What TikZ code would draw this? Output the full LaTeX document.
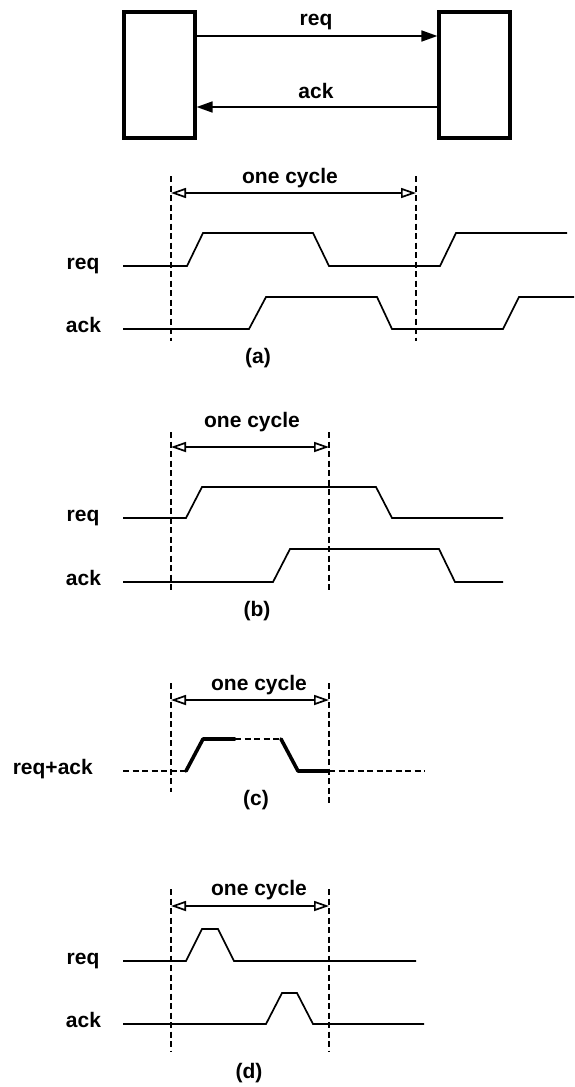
\documentclass[tikz,border=0pt]{standalone}
\usepackage{fontspec}
\setmainfont{Liberation Sans}
\usetikzlibrary{arrows.meta}
\begin{document}
\begin{tikzpicture}[x=1pt,y=-1pt,
  lbl/.style={font=\fontsize{21}{25}\selectfont\bfseries, inner sep=0pt},
  blk/.style={draw, line width=3.2pt, minimum width=71pt, minimum height=126pt, inner sep=0pt},
  sig/.style={line width=1.7pt, line join=miter},
  fat/.style={line width=3.6pt, line cap=round, line join=round},
  dsh/.style={line width=1.5pt, dash pattern=on 6pt off 3.5pt},
  flow/.style={line width=1.7pt, -{Triangle[length=16pt,width=11pt]}},
  span/.style={line width=1.7pt, {Triangle[open,length=15pt,width=10pt]}-{Triangle[open,length=15pt,width=10pt]}}]
\useasboundingbox (0,0) rectangle (574,1087);
% ---------- blocks ----------
\node[blk] (L) at (159.5,75) {};
\node[blk] (R) at (474.5,75) {};
\coordinate (yreq) at (0,36);
\coordinate (yack) at (0,107);
\draw[flow] (L.east |- yreq) -- (R.west |- yreq);
\draw[flow] (R.west |- yack) -- (L.east |- yack);
\node[lbl, anchor=base] (treq) at (316,25) {req};
\node[lbl, anchor=base] (tack) at (316,98) {ack};
% ---------- (a) ----------
\coordinate (a1t) at (171,176); \coordinate (a1b) at (171,341);
\coordinate (a2t) at (416,176); \coordinate (a2b) at (416,341);
\draw[dsh] (a1t) -- (a1b);
\draw[dsh] (a2t) -- (a2b);
\coordinate (aAl) at (171,193); \coordinate (aAr) at (416,193);
\draw[span] (aAl) -- (aAr);
\node[lbl, anchor=base] (aoc) at (290,183) {one cycle};
\draw[sig] (123,266) -- (187,266) -- (203,233) -- (313,233) -- (329,266) -- (440,266) -- (456,233) -- (567,233);
\draw[sig] (123,329) -- (249,329) -- (266,297) -- (377,297) -- (392,329) -- (503,329) -- (519,297) -- (574,297);
\node[lbl, anchor=base] (areq) at (83,269) {req};
\node[lbl, anchor=base] (aack) at (83.5,332) {ack};
\node[lbl, anchor=base] (acap) at (258,363) {(a)};
% ---------- (b) ----------
\coordinate (b1t) at (171,432); \coordinate (b1b) at (171,593);
\coordinate (b2t) at (329,432); \coordinate (b2b) at (329,593);
\draw[dsh] (b1t) -- (b1b);
\draw[dsh] (b2t) -- (b2b);
\coordinate (bAl) at (171,447); \coordinate (bAr) at (329,447);
\draw[span] (bAl) -- (bAr);
\node[lbl, anchor=base] (boc) at (252,427) {one cycle};
\draw[sig] (123,518) -- (186,518) -- (202,487) -- (376,487) -- (392,518) -- (503,518);
\draw[sig] (123,582) -- (273,582) -- (290,549) -- (439,549) -- (455,582) -- (503,582);
\node[lbl, anchor=base] (breq) at (83,521) {req};
\node[lbl, anchor=base] (back) at (83.5,585) {ack};
\node[lbl, anchor=base] (bcap) at (257,616) {(b)};
% ---------- (c) ----------
\coordinate (c1t) at (171,683); \coordinate (c1b) at (171,792);
\coordinate (c2t) at (329,683); \coordinate (c2b) at (329,803);
\draw[dsh] (c1t) -- (c1b);
\draw[dsh] (c2t) -- (c2b);
\coordinate (cAl) at (171,700); \coordinate (cAr) at (329,700);
\draw[span] (cAl) -- (cAr);
\node[lbl, anchor=base] (coc) at (259,690) {one cycle};
\draw[dsh] (123,771) -- (186,771);
\draw[fat] (186,771) -- (203,739) -- (235,739);
\draw[dsh] (235,739) -- (281,739);
\draw[fat] (281,739) -- (298,771) -- (329,771);
\draw[dsh] (329,771) -- (425,771);
\node[lbl, anchor=base east] (cra) at (93,774) {req+ack};
\node[lbl, anchor=base] (ccap) at (256,805) {(c)};
% ---------- (d) ----------
\coordinate (d1t) at (171,889); \coordinate (d1b) at (171,1052);
\coordinate (d2t) at (329,889); \coordinate (d2b) at (329,1052);
\draw[dsh] (d1t) -- (d1b);
\draw[dsh] (d2t) -- (d2b);
\coordinate (dAl) at (171,906); \coordinate (dAr) at (329,906);
\draw[span] (dAl) -- (dAr);
\node[lbl, anchor=base] (doc) at (259,895) {one cycle};
\draw[sig] (123,961) -- (186,961) -- (202,929) -- (218,929) -- (234,961) -- (416,961);
\draw[sig] (123,1024) -- (266,1024) -- (282,993) -- (297,993) -- (313,1024) -- (424,1024);
\node[lbl, anchor=base] (dreq) at (83,964) {req};
\node[lbl, anchor=base] (dack) at (83.5,1027) {ack};
\node[lbl, anchor=base] (dcap) at (249,1078) {(d)};
\end{tikzpicture}
\end{document}
